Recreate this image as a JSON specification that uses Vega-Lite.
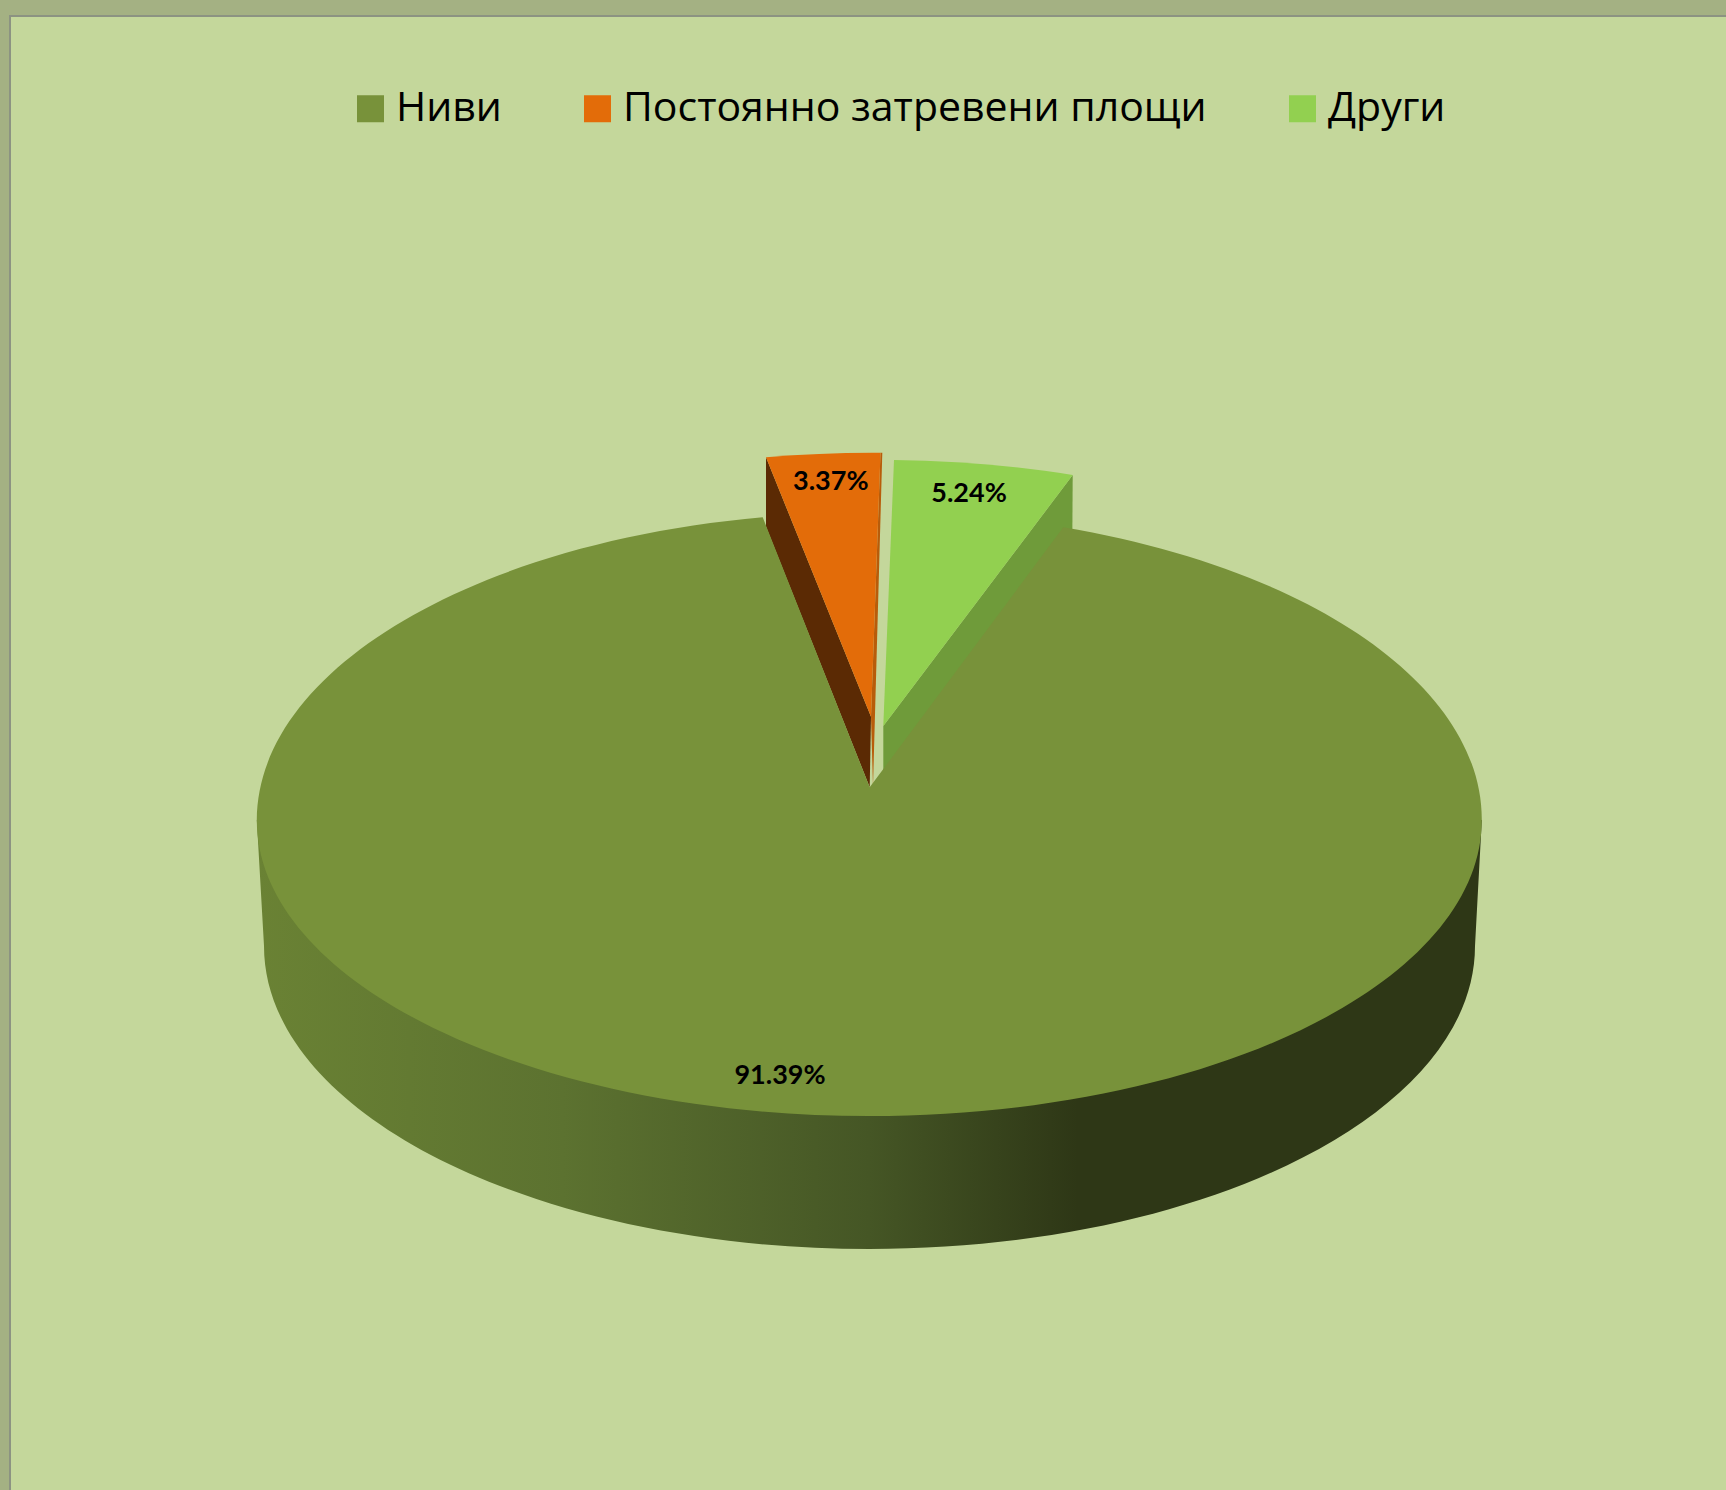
{"$schema":"https://vega.github.io/schema/vega-lite/v6.json","width":1716,"height":1474,"autosize":{"type":"none"},"padding":{"left":10,"top":16,"right":0,"bottom":0},"background":"#A4B183","config":{"view":{"fill":"#C4D79B","stroke":"#8C9382","strokeWidth":2,"strokeDash":[1716,3190,1474]}},"data":{"values":[{"category":"Ниви","share":91.39,"label":"91.39%"},{"category":"Постоянно затревени площи","share":3.37,"label":"3.37%"},{"category":"Други","share":5.24,"label":"5.24%"}]},"encoding":{"x":{"field":"share","type":"quantitative","axis":null,"scale":{"domain":[3.37,5.24,91.39],"range":[820.8,959,770],"zero":false,"nice":false}},"y":{"field":"share","type":"quantitative","axis":null,"scale":{"domain":[3.37,5.24,91.39],"range":[464,475.7,1058],"zero":false,"nice":false}}},"layer":[{"transform":[{"filter":"datum.category==='Ниви'"}],"mark":{"type":"point","filled":true,"opacity":1,"strokeWidth":0,"size":4,"shape":"M-523.2,-254 L-516,-128 A605.5,303 0 0 0 695,-128 L701.8,-254 Z","fill":{"gradient":"linear","x1":0,"y1":0,"x2":1,"y2":0,"stops":[{"offset":0,"color":"#6A8234"},{"offset":0.25,"color":"#5C7230"},{"offset":0.5,"color":"#455625"},{"offset":0.67,"color":"#2E3716"},{"offset":1,"color":"#2E3716"}]}}},{"transform":[{"filter":"datum.category==='Други'"}],"mark":{"type":"point","filled":true,"opacity":1,"strokeWidth":0,"size":4,"color":"#6F9B3A","shape":"M103.7,-16.7 L103.3,48.3 L-85.7,298.3 L-85.7,234.3 Z"}},{"transform":[{"filter":"datum.category==='Постоянно затревени площи'"}],"mark":{"type":"point","filled":true,"opacity":1,"strokeWidth":0,"size":4,"color":"#5B2A04","shape":"M-64.8,-22.7 L40.2,236.7 L38.9,307.3 L-64.8,46.7 Z"}},{"transform":[{"filter":"datum.category==='Постоянно затревени площи'"}],"mark":{"type":"point","filled":true,"opacity":1,"strokeWidth":0,"size":4,"color":"#B85C0A","shape":"M49.7,-27.3 L51.5,-27.3 L42.2,306 L40.2,236.7 Z"}},{"transform":[{"filter":"datum.category==='Ниви'"}],"mark":{"type":"point","filled":true,"opacity":1,"strokeWidth":0,"size":4,"color":"#78923A","shape":"M89.7,-286.7 L283.3,-546.7 A612.5,308 0 0 1 701.8,-254 A612.5,296 0 0 1 -523.2,-254 A612.5,308 0 0 1 -17.3,-556.7 Z"}},{"transform":[{"filter":"datum.category==='Постоянно затревени площи'"}],"mark":{"type":"point","filled":true,"opacity":1,"strokeWidth":0,"size":4,"color":"#E36C09","shape":"M-64.8,-22.7 A612,302 0 0 1 49.7,-27.3 L40.2,236.7 Z"}},{"transform":[{"filter":"datum.category==='Други'"}],"mark":{"type":"point","filled":true,"opacity":1,"strokeWidth":0,"size":4,"color":"#92D050","shape":"M-75,-31.7 A612,302 0 0 1 103.7,-16.7 L-85.7,234.3 Z"}},{"mark":{"type":"point","filled":true,"opacity":1,"strokeWidth":0,"size":0,"shape":"square"},"encoding":{"color":{"field":"category","type":"nominal","scale":{"domain":["Ниви","Постоянно затревени площи","Други"],"range":["#78923A","#E36C09","#92D050"]},"legend":{"title":null,"orient":"none","legendX":340,"legendY":72,"direction":"horizontal","columns":3,"columnPadding":75,"symbolType":"square","symbolSize":729,"symbolOpacity":1,"symbolStrokeWidth":0,"labelFont":"Open Sans","labelFontSize":41,"labelColor":"#000000","labelOffset":5,"labelLimit":900,"padding":0}}}},{"mark":{"type":"text","font":"Lato","fontWeight":"bold","fontSize":27,"dy":2,"color":"#000000","align":"center","baseline":"middle"},"encoding":{"text":{"field":"label","type":"nominal"}}}]}
